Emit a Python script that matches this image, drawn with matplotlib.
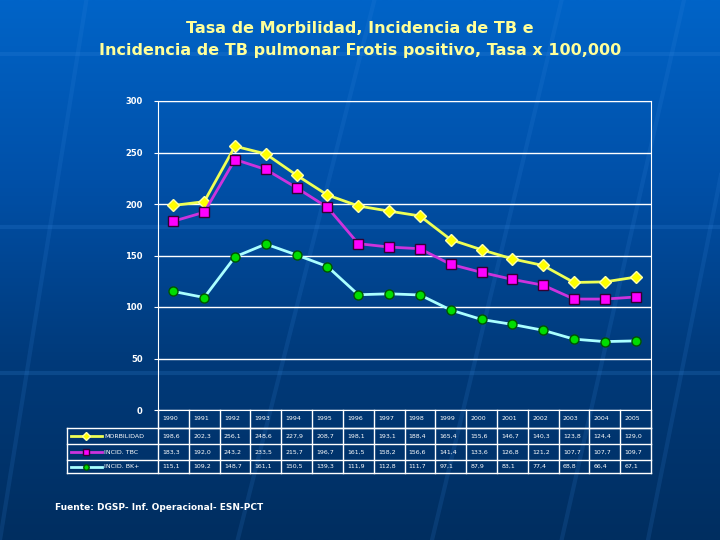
import matplotlib.pyplot as plt
import numpy as np
from matplotlib.colors import LinearSegmentedColormap

years = ["1990", "1991", "1992", "1993", "1994", "1995", "1996", "1997",
         "1998", "1999", "2000", "2001", "2002", "2003", "2004", "2005"]
morbilidad = [198.6, 202.3, 256.1, 248.6, 227.9, 208.7, 198.1, 193.1,
              188.4, 165.4, 155.6, 146.7, 140.3, 123.8, 124.4, 129.0]
incid_tbc = [183.3, 192.0, 243.2, 233.5, 215.7, 196.7, 161.5, 158.2,
             156.6, 141.4, 133.6, 126.8, 121.2, 107.7, 107.7, 109.7]
incid_bk = [115.1, 109.2, 148.7, 161.1, 150.5, 139.3, 111.9, 112.8,
            111.7, 97.1, 87.9, 83.1, 77.4, 68.8, 66.4, 67.1]
labels = ["MORBILIDAD", "INCID. TBC", "INCID. BK+"]

series = [morbilidad, incid_tbc, incid_bk]
styles = [dict(color="#EEFF55", marker="D", mfc="#FFFF00", mec="#FFFFAA", ms=6.5),
          dict(color="#CC33DD", marker="s", mfc="#FF00FF", mec="#330033", ms=7),
          dict(color="#AAFFFF", marker="o", mfc="#00DD00", mec="#005500", ms=6.5)]

fig = plt.figure(figsize=(7.2, 5.4), dpi=100)

# blue gradient background
bg = fig.add_axes([0, 0, 1, 1], zorder=-10)
grad = np.linspace(0, 1, 256).reshape(-1, 1)
cmap = LinearSegmentedColormap.from_list("bg", ["#0064C8", "#0050A8", "#003A7A", "#002E60"])
bg.imshow(grad, aspect="auto", cmap=cmap, extent=[0, 1, 0, 1])
# faint streaks
for x0, x1 in [(0.0, 0.12), (0.33, 0.52), (0.6, 0.78), (0.78, 0.95), (0.9, 1.05)]:
    bg.plot([x0, x1], [0.0, 1.0], color="#3A8AE0", alpha=0.15, lw=3)
for yy in [0.58, 0.31, 0.9]:
    bg.axhline(yy, color="#3A8AE0", alpha=0.2, lw=3)
bg.set_xlim(0, 1)
bg.set_ylim(0, 1)
bg.axis("off")

fig.text(0.5, 0.948, "Tasa de Morbilidad, Incidencia de TB e", ha="center", va="center",
         color="#FFFF99", fontsize=11.5, fontweight="bold")
fig.text(0.5, 0.907, "Incidencia de TB pulmonar Frotis positivo, Tasa x 100,000",
         ha="center", va="center", color="#FFFF99", fontsize=11.5, fontweight="bold")

L, R, B, T = 158 / 720, 651 / 720, 1 - 410 / 540, 1 - 101 / 540
ax = fig.add_axes([L, B, R - L, T - B])
ax.patch.set_alpha(0)
x = np.arange(len(years))
for vals, st in zip(series, styles):
    ax.plot(x, vals, lw=2, zorder=3, **st)
ax.set_xlim(-0.5, len(years) - 0.5)
ax.set_ylim(0, 300)
ax.set_yticks(range(0, 301, 50))
ax.yaxis.grid(True, color="white", lw=1)
ax.set_axisbelow(True)
ax.set_xticks([])
ax.tick_params(axis="y", colors="white", labelsize=6, length=3, pad=8)
for lab in ax.get_yticklabels():
    lab.set_fontweight("bold")
for s in ax.spines.values():
    s.set_color("white")

# data table under the plot
lab_left = 67 / 720
colw = (R - L) / len(years)
row_edges = [410, 428, 444, 460, 473]
rows_y = [1 - r / 540 for r in row_edges]
lc = "white"
fig.add_artist(plt.Line2D([L, R], [rows_y[1]] * 2, color=lc, lw=1))
for i in range(len(years) + 1):
    xx = L + i * colw
    fig.add_artist(plt.Line2D([xx, xx], [rows_y[0], rows_y[4]], color=lc, lw=1))
for yy in rows_y[1:]:
    fig.add_artist(plt.Line2D([lab_left, R], [yy, yy], color=lc, lw=1))
fig.add_artist(plt.Line2D([lab_left, lab_left], [rows_y[1], rows_y[4]], color=lc, lw=1))
for i, yr in enumerate(years):
    fig.text(L + i * colw + 0.006, (rows_y[0] + rows_y[1]) / 2, yr, color="white",
             fontsize=4.5, va="center")
for r, (vals, st, name) in enumerate(zip(series, styles, labels)):
    yc = (rows_y[r + 1] + rows_y[r + 2]) / 2
    fig.add_artist(plt.Line2D([lab_left + 0.006, lab_left + 0.027, lab_left + 0.048], [yc, yc, yc],
                              color=st["color"], lw=2, marker=st["marker"], markevery=[1],
                              ms=st["ms"] * 0.6, mfc=st["mfc"], mec=st["mec"]))
    fig.text(lab_left + 0.052, yc, name, color="white", fontsize=4.5, va="center")
    for i, v in enumerate(vals):
        fig.text(L + i * colw + 0.006, yc, f"{v:.1f}".replace(".", ","), color="white",
                 fontsize=4.5, va="center")

fig.text(55 / 720, 1 - 507 / 540, "Fuente: DGSP- Inf. Operacional- ESN-PCT", color="white",
         fontsize=6.5, fontweight="bold", va="center")

fig.savefig("out.png", dpi=100)
